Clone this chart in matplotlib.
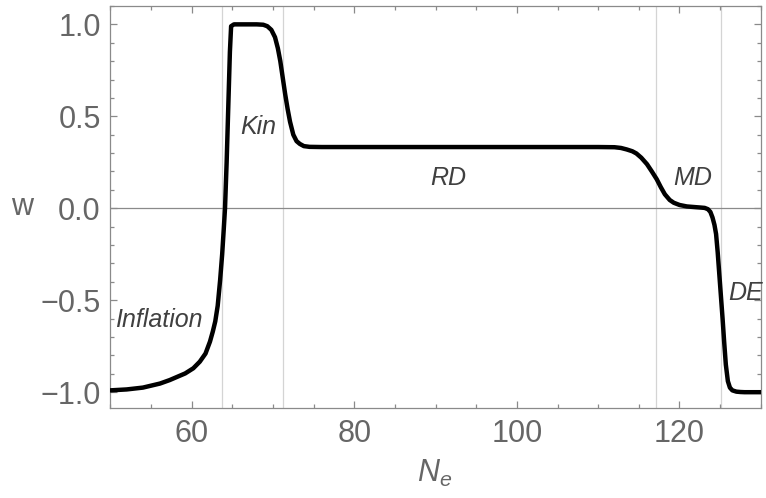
import numpy as np
import matplotlib
matplotlib.use("Agg")
import matplotlib.pyplot as plt
from matplotlib.ticker import MultipleLocator

plt.rcParams['font.family'] = ['Liberation Sans', 'DejaVu Sans']
plt.rcParams['mathtext.fontset'] = 'custom'
plt.rcParams['mathtext.it'] = 'Liberation Sans:italic'
plt.rcParams['mathtext.rm'] = 'Liberation Sans'

# equation of state w vs e-folds
n_e = [50, 52, 54, 56.1, 57.3, 58.3, 59.2, 60.2, 61.0, 61.7,
       62.25, 62.6, 62.9, 63.2, 63.5, 63.75, 63.95, 64.1, 64.3, 64.5,
       64.7, 64.85, 65.2, 66, 67, 68, 68.8, 69.3, 69.8, 70.25,
       70.6, 70.9, 71.2, 71.5, 71.8, 72.1, 72.5, 72.9, 73.3, 73.8,
       74.5, 76, 80, 90, 100, 110, 112, 112.8, 113.5, 114.2,
       114.7, 115.3, 116, 116.6, 117.2, 117.7, 118.2, 118.8, 119.3, 120,
       120.9, 122, 122.6, 123.1, 123.5, 123.8, 124.06, 124.3, 124.5, 124.7,
       124.9, 125.1, 125.3, 125.5, 125.7, 125.95, 126.2, 126.5, 127.0, 127.5,
       128, 130]
w = [-0.990, -0.985, -0.975, -0.953, -0.934, -0.915, -0.898, -0.87, -0.834, -0.79,
     -0.725, -0.67, -0.615, -0.53, -0.39, -0.25, -0.11, 0.0, 0.25, 0.55,
     0.85, 0.99, 1.0, 1.0, 1.0, 1.0, 0.998, 0.99, 0.97, 0.93,
     0.87, 0.80, 0.71, 0.62, 0.54, 0.47, 0.40, 0.365, 0.35, 0.338,
     0.334, 0.333, 0.333, 0.333, 0.333, 0.333, 0.332, 0.328, 0.32, 0.31,
     0.298, 0.275, 0.24, 0.20, 0.158, 0.115, 0.076, 0.045, 0.03, 0.018,
     0.01, 0.006, 0.004, 0.002, -0.005, -0.02, -0.05, -0.09, -0.14, -0.24,
     -0.36, -0.48, -0.6, -0.73, -0.85, -0.94, -0.975, -0.99, -0.997, -0.999,
     -1.0, -1.0]

# epoch boundaries
boundaries = [63.7, 71.2, 117.1, 125.1]

labels = ['Inflation', 'Kin', 'RD', 'MD', 'DE']
label_x = [55.9, 68.2, 91.5, 121.6, 128.1]
label_y = [-0.61, 0.44, 0.165, 0.165, -0.46]

fig = plt.figure(figsize=(7.66, 4.98), dpi=100)
ax = fig.add_axes([0.1441, 0.1807, 0.8491, 0.8073])

frame = '#8a8a8a'
txt = '#666666'

for b in boundaries:
    ax.axvline(b, color='#d4d4d4', lw=0.9, zorder=1)
ax.axhline(0, color='#8a8a8a', lw=0.9, zorder=1)

ax.plot(n_e, w, color='black', lw=3.2, solid_joinstyle='round', zorder=3)

for t, x, y in zip(labels, label_x, label_y):
    ax.text(x, y, t, style='italic', fontsize=18, color='#404040',
            ha='center', va='center', zorder=4)

ax.set_xlim(50, 130)
ax.set_ylim(-1.086, 1.1)
ax.xaxis.set_minor_locator(MultipleLocator(5))
ax.yaxis.set_minor_locator(MultipleLocator(0.1))
ax.set_xticks([60, 80, 100, 120])
ax.set_yticks([-1.0, -0.5, 0.0, 0.5, 1.0])
ax.set_yticklabels(['\u22121.0', '\u22120.5', '0.0', '0.5', '1.0'])

ax.tick_params(which='both', direction='in', top=True, right=True,
               color=frame, width=0.9, labelcolor=txt, labelsize=22)
ax.tick_params(which='major', length=5)
ax.tick_params(which='minor', length=3)
ax.tick_params(axis='x', pad=8)
ax.tick_params(axis='y', pad=7)
for s in ax.spines.values():
    s.set_color(frame)
    s.set_linewidth(0.9)

ax.set_xlabel(r'$N_e$', fontsize=22, color=txt, va='center')
ax.xaxis.set_label_coords(0.499, -0.163)
ax.set_ylabel('w', fontsize=22, color=txt, rotation=0, ha='center', va='center')
ax.yaxis.set_label_coords(-0.136, 0.5)

fig.savefig('out.png', dpi=100)
